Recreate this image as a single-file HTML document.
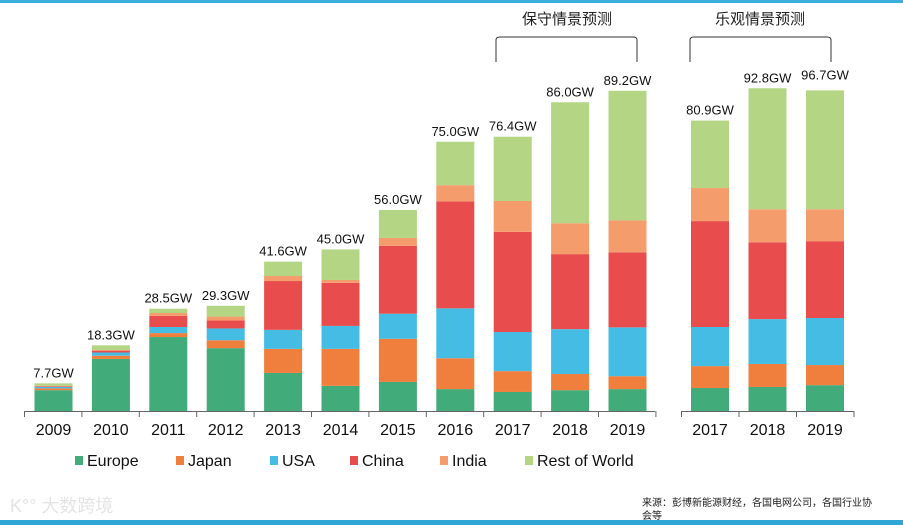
<!DOCTYPE html>
<html><head><meta charset="utf-8">
<style>
html,body{margin:0;padding:0;background:#fff;}
body{width:903px;height:525px;overflow:hidden;position:relative;font-family:"Liberation Sans","Noto Sans CJK SC",sans-serif;}
</style></head>
<body>
<svg id="chart" width="903" height="525" xmlns="http://www.w3.org/2000/svg" style="position:absolute;left:0;top:0">
<rect x="0" y="0" width="903" height="3" fill="#3aaed8"/>
<rect x="0" y="520" width="903" height="5" fill="#2fa6d6"/>
<g id="bars"></g>
<g id="axes"></g>
<g id="labels"></g>
<g id="brackets" fill="none" stroke="#333" stroke-width="1">
<path d="M496,62 L496,40 Q496,37 500,37 L633,37 Q637,37 637,40 L637,62"/>
<path d="M690,62 L690,40 Q690,37 694,37 L827,37 Q831,37 831,40 L831,62"/>
</g>
<text x="567" y="24" text-anchor="middle" font-size="15" fill="#222">保守情景预测</text>
<text x="760" y="24" text-anchor="middle" font-size="15" fill="#222">乐观情景预测</text>
<g id="legend"></g>
<text x="642" y="506" font-size="10" fill="#222">来源：彭博新能源财经，各国电网公司，各国行业协</text>
<text x="642" y="519" font-size="10" fill="#222">会等</text>
<text x="10" y="512" font-size="18" fill="#e4e4e4">K°° 大数跨境</text>
</svg>
<script>
const categories = ["2009","2010","2011","2012","2013","2014","2015","2016","2017","2018","2019","2017","2018","2019"];
const totals = ["7.7GW","18.3GW","28.5GW","29.3GW","41.6GW","45.0GW","56.0GW","75.0GW","76.4GW","86.0GW","89.2GW","80.9GW","92.8GW","96.7GW"];
const seriesNames = ["Europe","Japan","USA","China","India","Rest of World"];
const europe = [5.8,14.5,20.6,17.5,10.6,7.0,8.1,6.1,5.3,5.8,6.1,6.4,6.7,7.2];
const japan  = [0.5,0.9,1.1,2.2,6.7,10.3,12.0,8.6,5.8,4.5,3.6,6.1,6.4,5.6];
const usa    = [0.4,0.9,1.7,3.3,5.3,6.4,7.0,13.9,10.9,12.5,13.6,10.9,12.5,13.1];
const china  = [0.2,0.5,3.1,2.2,13.6,12.0,18.9,29.8,27.9,20.9,20.9,29.5,21.4,21.4];
const india  = [0.1,0.2,0.8,1.1,1.4,0.8,2.2,4.5,8.6,8.6,8.9,9.2,9.2,8.9];
const rest   = [0.7,1.3,1.2,3.0,4.0,8.5,7.8,12.1,17.9,33.7,36.1,18.8,33.7,33.1];
const colors = ["#41ab7a","#f07e3c","#45bce3","#e84c4c","#f59c6c","#b3d584"];

const NS="http://www.w3.org/2000/svg";
const base=411, k=3.59, bw=38;
function yScale(v){return base - v*k;}
function xCenter(i){return i<11 ? 53.5 + i*57.4 : 710 + (i-11)*57.5;}
function mk(tag,attrs,parent){const e=document.createElementNS(NS,tag);for(const a in attrs)e.setAttribute(a,attrs[a]);parent.appendChild(e);return e;}
const series=[europe,japan,usa,china,india,rest];
const gb=document.getElementById('bars');
categories.forEach((c,i)=>{
  let cum=0;
  series.forEach((s,j)=>{
    const y0=yScale(cum), y1=yScale(cum+s[i]);
    const r=mk('rect',{x:xCenter(i)-bw/2,y:y1,width:bw,height:Math.max(0,y0-y1),fill:colors[j]},gb);
    
    
    cum+=s[i];
  });
  const t=mk('text',{x:xCenter(i),y:yScale(cum)-6-(i===13?5:0),'text-anchor':'middle','font-size':'13',fill:'#111'},document.getElementById('labels'));
  t.textContent=totals[i];
  
  
  const l=mk('text',{x:xCenter(i),y:435,'text-anchor':'middle','font-size':'16',fill:'#111'},document.getElementById('labels'));
  l.textContent=c;
  
  
});
const ga=document.getElementById('axes');
const ax1=mk('line',{x1:24,y1:411.5,x2:655,y2:411.5,stroke:'#666'},ga);


const ax2=mk('line',{x1:681,y1:411.5,x2:854,y2:411.5,stroke:'#666'},ga);


for(let i=0;i<=11;i++){const tk=mk('line',{x1:24.5+i*57.4,y1:411,x2:24.5+i*57.4,y2:417,stroke:'#666'},ga);

}
for(let i=0;i<=3;i++){const tk=mk('line',{x1:681.5+i*57.5,y1:411,x2:681.5+i*57.5,y2:417,stroke:'#666'},ga);

}
const legX=[75,176,270,350,440,525];
const gl=document.getElementById('legend');
seriesNames.forEach((n,j)=>{
  const g=mk('g',{},gl);
  
  
  mk('rect',{x:legX[j],y:456,width:8,height:9,fill:colors[j]},g);
  const t=mk('text',{x:legX[j]+12,y:466,'font-size':'16',fill:'#111'},g);
  t.textContent=n;
});
</script>
</body></html>
